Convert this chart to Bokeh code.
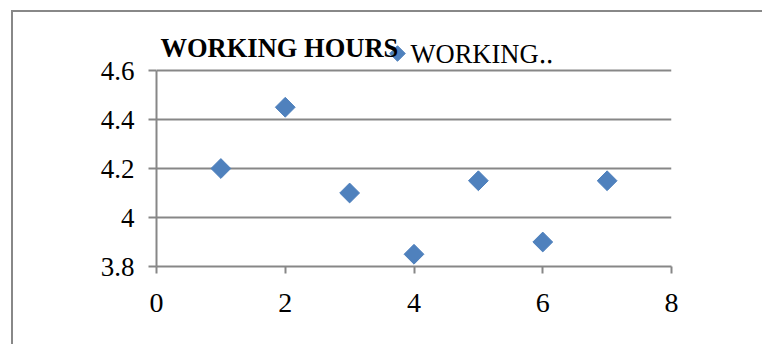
from bokeh.plotting import figure
from bokeh.models import FixedTicker, PrintfTickFormatter, Range1d, Label
from bokeh.embed import file_html
from bokeh.resources import INLINE

# ---- data ----
day = [1, 2, 3, 4, 5, 6, 7]
working_hours = [4.2, 4.45, 4.1, 3.85, 4.15, 3.9, 4.15]
x_ticks = [0, 2, 4, 6, 8]
y_ticks = [3.8, 4.0, 4.2, 4.4, 4.6]
title_text = "WORKING HOURS"
legend_text = "WORKING\u2025"

FONT = "Liberation Serif"
GRAY = "#878787"
BLUE = "#4F81BD"

# layout (pixels)
PLOT_W = 515          # pixel width of the x span 0..8
PLOT_H = 196          # pixel height of the y span 3.8..4.6
FRAME_H = 254         # frame extends above the top tick to hold title/legend
x_lo, x_hi = x_ticks[0], x_ticks[-1]
y_lo, y_hi = y_ticks[0], y_ticks[-1]
y_top = y_lo + (y_hi - y_lo) * FRAME_H / PLOT_H

p = figure(width=751, height=334, output_backend="svg", toolbar_location=None,
           x_range=Range1d(x_lo, x_hi), y_range=Range1d(y_lo, y_top),
           min_border_left=143, min_border_right=93, min_border_top=0,
           min_border_bottom=80)
p.title = None
p.outline_line_color = None
p.background_fill_color = "white"
p.border_fill_color = "white"
p.styles = {"margin-left": "11px", "margin-top": "10px",
            "border-left": "2px solid #888888", "border-top": "2px solid #888888"}

# axes
for ax in (p.xaxis[0], p.yaxis[0]):
    ax.axis_line_color = GRAY
    ax.axis_line_width = 2
    ax.major_tick_line_color = GRAY
    ax.major_tick_line_width = 2
    ax.minor_tick_line_color = None
    ax.major_label_text_font = FONT
    ax.major_label_text_color = "black"
    ax.major_tick_in = 0

p.xaxis.ticker = FixedTicker(ticks=x_ticks)
p.yaxis.ticker = FixedTicker(ticks=y_ticks)
p.yaxis.formatter = PrintfTickFormatter(format="%g")
p.xaxis.formatter = PrintfTickFormatter(format="%g")
p.yaxis.bounds = (y_lo, y_hi)
p.xaxis.bounds = (x_lo, x_hi)
p.xaxis.major_label_text_font_size = "28px"
p.yaxis.major_label_text_font_size = "27px"
p.xaxis.major_tick_out = 7
p.yaxis.major_tick_out = 8
p.xaxis.major_label_standoff = 20
p.yaxis.major_label_standoff = 14

p.xgrid.grid_line_color = None
p.ygrid.ticker = FixedTicker(ticks=y_ticks)
p.ygrid.grid_line_color = GRAY
p.ygrid.grid_line_width = 2

p.scatter(day, working_hours, marker="square", size=14, angle=0.785398,
          fill_color=BLUE, line_color=BLUE)

# chart title
p.add_layout(Label(x=4, y=219, x_units="screen", y_units="screen",
                   text=title_text, text_font=FONT, text_font_size="26.5px",
                   text_font_style="bold", text_color="black",
                   text_baseline="alphabetic"))

# legend: diamond key + label (placed in pixels from the plot's lower-left corner)
key_px, key_py = 241, 213
p.scatter([x_lo + key_px * (x_hi - x_lo) / PLOT_W],
          [y_lo + key_py * (y_hi - y_lo) / PLOT_H],
          marker="square", size=11, angle=0.785398,
          fill_color=BLUE, line_color=BLUE)
p.add_layout(Label(x=254, y=213, x_units="screen", y_units="screen",
                   text=legend_text, text_font=FONT, text_font_size="26.5px",
                   text_color="black", text_baseline="middle"))

open("out.html", "w").write(file_html(p, INLINE))
